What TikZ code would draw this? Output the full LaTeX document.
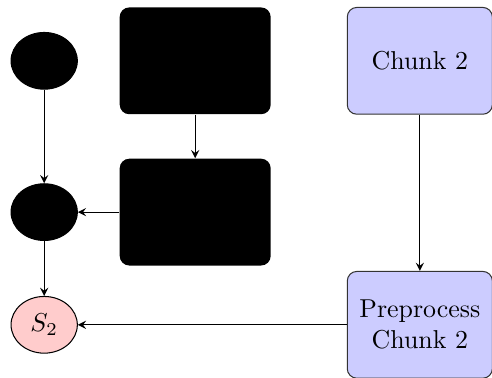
\documentclass[tikz,border=0pt]{standalone}
\usepackage{tikz}
\usetikzlibrary{shapes}
\usepgflibrary{arrows}
\usepackage{amsmath}

\begin{document}
\begin{tikzpicture}[>=stealth,
allapot/.style={ellipse,draw=black,inner sep=0pt,minimum width=0.9cm,minimum height=0.77cm},
rejtett/.style={rectangle,rounded corners=1.3mm,fill=black,minimum width=2.05cm,minimum height=1.45cm},
darab/.style={rectangle,rounded corners=1.3mm,draw=black!80,fill=blue!20,align=center,minimum width=1.97cm,minimum height=1.45cm}
]

\useasboundingbox (0,0) rectangle (6.68,-5.12);

\pgfmathsetmacro{\felso}{-0.826}
\pgfmathsetmacro{\kozep}{-2.88}
\pgfmathsetmacro{\also}{-4.41}

\node[allapot,fill=black](s0) at (0.6,\felso){};
\node[allapot,fill=black](s1) at (0.6,\kozep){};
\node[allapot,fill=red!20](s2) at (0.6,\also){$S_2$};

\node[rejtett](h1) at (2.65,\felso){};
\node[rejtett](h2) at (2.65,\kozep){};

\node[darab](chunk) at (5.70,\felso){Chunk 2};
\node[darab](prep) at (5.70,\also){Preprocess\\Chunk 2};

\begin{scope}[->]
\draw (s0)--(s1);
\draw (s1)--(s2);
\draw (h1)--(h2);
\draw (h2)--(s1);
\draw (chunk)--(prep);
\draw (prep)--(s2);
\end{scope}

\end{tikzpicture}
\end{document}
